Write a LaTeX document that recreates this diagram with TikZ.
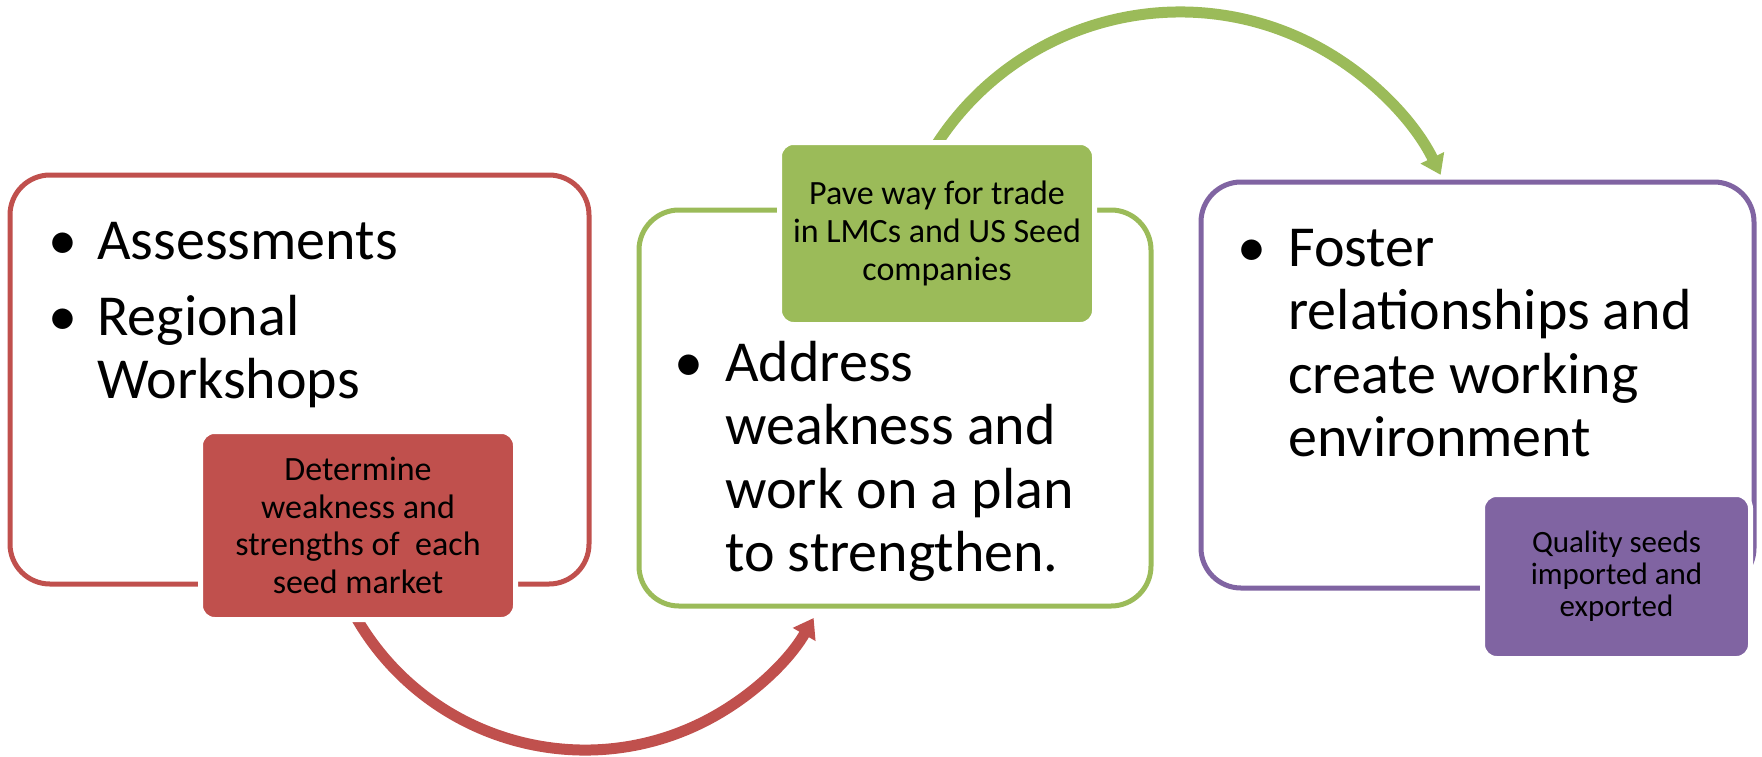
\documentclass[tikz,border=0pt]{standalone}
\usepackage{fontspec}
\setmainfont{Carlito}
\usetikzlibrary{arrows.meta,calc}
\definecolor{cred}{HTML}{C0504D}
\definecolor{cgreen}{HTML}{9BBB59}
\definecolor{cpurple}{HTML}{8064A2}
\begin{document}
\begin{tikzpicture}[x=0.5pt,y=-0.5pt,
  outlinebox/.style={draw=#1, line width=2.5pt, rounded corners=20pt, fill=white, inner sep=0pt},
  fillbox/.style={fill=#1, draw=white, line width=2.5pt, rounded corners=7pt, inner sep=0pt, align=center, text=black},
  smalltext/.style={font=\fontsize{17pt}{18.8pt}\selectfont},
  big/.style={anchor=base west, inner sep=0pt, font=\fontsize{29pt}{31.75pt}\selectfont},
  bul/.style={anchor=base, inner sep=0pt, font=\fontsize{29pt}{31.75pt}\selectfont},
  curvearrow/.style={draw=#1, line width=5.5pt, -{Triangle[length=9.5pt,width=12.5pt]}}
]
\useasboundingbox (0,0) rectangle (1762,756);

% outline boxes
\node[outlinebox=cred, minimum width=289.5pt, minimum height=204.5pt] (b1) at (299.5,379.5) {};
\node[outlinebox=cgreen, minimum width=256pt, minimum height=198pt] (b2) at (895,408) {};
\node[outlinebox=cpurple, minimum width=276.5pt, minimum height=203pt] (b3) at (1477.5,385) {};

% curved arrows
\coordinate (r0) at ($(585,486)+(152:264)$);
\draw[curvearrow=cred] (r0) arc[start angle=152, end angle=30, radius=264];
\coordinate (g0) at ($(1180,302)+(210:290)$);
\draw[curvearrow=cgreen] (g0) arc[start angle=210, end angle=334, radius=290];

% filled boxes
\node[fillbox=cred, smalltext, minimum width=157.5pt, minimum height=94pt] (t1) at (358,525.5)
  {Determine\\weakness and\\strengths of \ each\\seed market};
\node[fillbox=cgreen, smalltext, minimum width=157.5pt, minimum height=91pt] (t2) at (937,233.5)
  {Pave way for trade\\in LMCs and US Seed\\companies};
\node[fillbox=cpurple, minimum width=134pt, minimum height=82pt, font=\fontsize{15.5pt}{16pt}\selectfont] (t3) at (1616.5,576.5)
  {Quality seeds\\imported and\\exported};

% bullet texts
\node[bul] (u1) at (62.5,259) {•};
\node[big] (i1) at (97,259) {Assessments};
\node[bul] (u2) at (62.5,335) {•};
\node[big] (i2) at (97,335) {\parbox[t]{240pt}{Regional\\Workshops}};

\node[bul] (u3) at (689,381) {•};
\node[big] (i3) at (725,381) {\parbox[t]{240pt}{Address\\weakness and\\work on a plan\\to strengthen.}};

\node[bul] (u4) at (1252,266) {•};
\node[big] (i4) at (1288,266) {\parbox[t]{240pt}{Foster\\relationships and\\create working\\environment}};
\end{tikzpicture}
\end{document}
